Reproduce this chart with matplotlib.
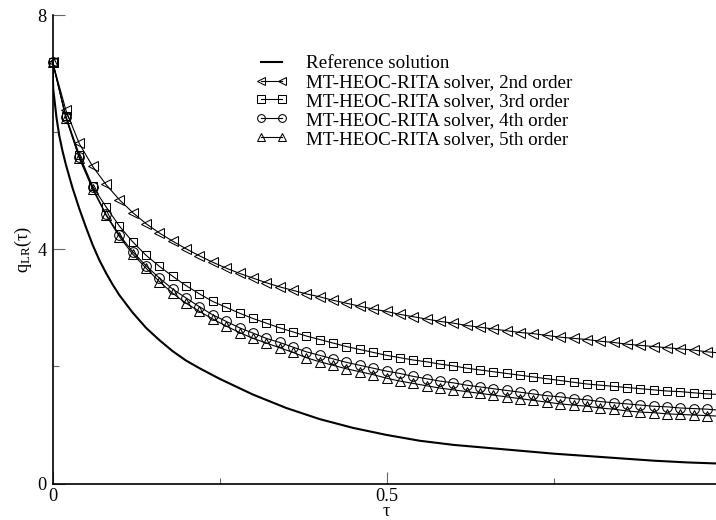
import numpy as np
import matplotlib
matplotlib.use("Agg")
import matplotlib.pyplot as plt
from matplotlib.ticker import MultipleLocator, FixedFormatter, FixedLocator

plt.rcParams['font.family'] = ['Liberation Serif', 'DejaVu Serif']
plt.rcParams['mathtext.fontset'] = 'custom'
plt.rcParams['mathtext.rm'] = 'Liberation Serif'
plt.rcParams['mathtext.it'] = 'Liberation Serif:italic'

FS = 13.2
FS_LEG = 13.7

# reference (exact) solution, sampled denser near tau = 0
tau_ref = [0.0, 0.001, 0.003, 0.006, 0.01, 0.015, 0.02, 0.03, 0.04, 0.05,
           0.06, 0.07, 0.08, 0.09, 0.10, 0.12, 0.14, 0.16, 0.18, 0.20,
           0.22, 0.25, 0.30, 0.35, 0.40, 0.45, 0.50, 0.55, 0.60, 0.65,
           0.70, 0.75, 0.80, 0.85, 0.90, 0.95, 1.00]
q_ref = [7.21, 6.75, 6.55, 6.25, 5.95, 5.68, 5.45, 5.05, 4.70, 4.38,
         4.08, 3.82, 3.60, 3.40, 3.22, 2.92, 2.66, 2.45, 2.26, 2.10,
         1.97, 1.79, 1.52, 1.29, 1.10, 0.95, 0.83, 0.73, 0.66, 0.61,
         0.56, 0.51, 0.47, 0.43, 0.39, 0.36, 0.34]

# solver output, every 0.02 in tau
tau = np.round(np.arange(51) * 0.02, 2)
q_o2 = [7.21, 6.38, 5.81, 5.42, 5.11, 4.85, 4.63, 4.44, 4.28, 4.14,
        4.01, 3.89, 3.78, 3.68, 3.59, 3.51, 3.43, 3.36, 3.30, 3.24,
        3.19, 3.13, 3.08, 3.03, 2.98, 2.94, 2.89, 2.85, 2.81, 2.77,
        2.74, 2.70, 2.67, 2.64, 2.61, 2.58, 2.56, 2.53, 2.50, 2.48,
        2.46, 2.43, 2.41, 2.38, 2.36, 2.34, 2.32, 2.30, 2.28, 2.25,
        2.23]
q_o3 = [7.21, 6.28, 5.62, 5.08, 4.73, 4.40, 4.13, 3.90, 3.71, 3.54,
        3.38, 3.24, 3.11, 3.01, 2.91, 2.82, 2.74, 2.66, 2.59, 2.52,
        2.46, 2.40, 2.34, 2.29, 2.24, 2.19, 2.15, 2.11, 2.08, 2.04,
        2.01, 1.97, 1.94, 1.91, 1.88, 1.85, 1.82, 1.79, 1.76, 1.73,
        1.70, 1.68, 1.66, 1.64, 1.62, 1.60, 1.58, 1.57, 1.55, 1.53,
        1.52]
q_o4 = [7.21, 6.26, 5.58, 5.06, 4.60, 4.25, 3.96, 3.72, 3.51, 3.32,
        3.17, 3.02, 2.88, 2.77, 2.66, 2.57, 2.48, 2.41, 2.33, 2.25,
        2.19, 2.13, 2.07, 2.02, 1.97, 1.92, 1.88, 1.83, 1.79, 1.75,
        1.72, 1.68, 1.65, 1.62, 1.59, 1.56, 1.53, 1.50, 1.48, 1.45,
        1.43, 1.40, 1.38, 1.36, 1.34, 1.32, 1.31, 1.29, 1.28, 1.27,
        1.25]
q_o5 = [7.21, 6.25, 5.56, 5.03, 4.59, 4.22, 3.92, 3.68, 3.45, 3.25,
        3.08, 2.94, 2.81, 2.69, 2.58, 2.48, 2.40, 2.32, 2.24, 2.15,
        2.08, 2.02, 1.96, 1.91, 1.86, 1.80, 1.75, 1.71, 1.67, 1.63,
        1.60, 1.57, 1.54, 1.51, 1.48, 1.45, 1.42, 1.39, 1.36, 1.34,
        1.32, 1.29, 1.27, 1.24, 1.22, 1.21, 1.19, 1.18, 1.17, 1.16,
        1.15]

labels = ["Reference solution",
          "MT-HEOC-RITA solver, 2nd order",
          "MT-HEOC-RITA solver, 3rd order",
          "MT-HEOC-RITA solver, 4th order",
          "MT-HEOC-RITA solver, 5th order"]
markers = ["<", "s", "o", "^"]
msizes = [7.2, 6.4, 7.0, 7.2]

fig = plt.figure(figsize=(7.16, 5.2), dpi=100)
ax = fig.add_axes([52.5 / 716, 36.5 / 520, 668 / 716, 468.2 / 520])

ax.plot(tau_ref, q_ref, color="black", lw=1.5, label=labels[0], zorder=3)
for q, m, ms, lab in zip([q_o2, q_o3, q_o4, q_o5], markers, msizes, labels[1:]):
    ax.plot(tau, q, color="black", lw=0.8, marker=m, ms=ms,
            mfc="none", mec="black", mew=0.75, label=lab, clip_on=False, zorder=4)

ax.set_xlim(0, 1)
ax.set_ylim(0, 8)
# the tick at 1 sits right on the figure edge, so it gets no label
ax.xaxis.set_major_locator(FixedLocator([0, 0.5, 1.0]))
ax.xaxis.set_major_formatter(FixedFormatter(["0", "0.5", ""]))
ax.xaxis.set_minor_locator(MultipleLocator(0.25))
ax.yaxis.set_major_locator(MultipleLocator(4))
ax.yaxis.set_minor_locator(MultipleLocator(2))

for side in ["top", "right"]:
    ax.spines[side].set_visible(False)
for side in ["left", "bottom"]:
    ax.spines[side].set_linewidth(1.2)

ax.tick_params(which="major", direction="in", length=8.5, width=0.8,
               color="0.4", labelsize=FS)
ax.tick_params(which="minor", direction="in", length=4.5, width=0.8,
               color="0.4")
ax.tick_params(axis="y", pad=4.5)
ax.tick_params(axis="x", pad=3)

ax.set_xlabel("τ", fontsize=FS, labelpad=-1)
ax.set_ylabel(r"q$_{\mathrm{LR}}$(τ)", fontsize=FS, labelpad=2)

ax.legend(loc="upper left", bbox_to_anchor=(255 / 716, 1 - 55 / 520),
          bbox_transform=fig.transFigure, frameon=False, fontsize=FS_LEG,
          numpoints=2, handlelength=1.7, handletextpad=1.0,
          labelspacing=0.08, borderpad=0, borderaxespad=0, markerscale=0.8)

fig.savefig("out.png", dpi=100)
